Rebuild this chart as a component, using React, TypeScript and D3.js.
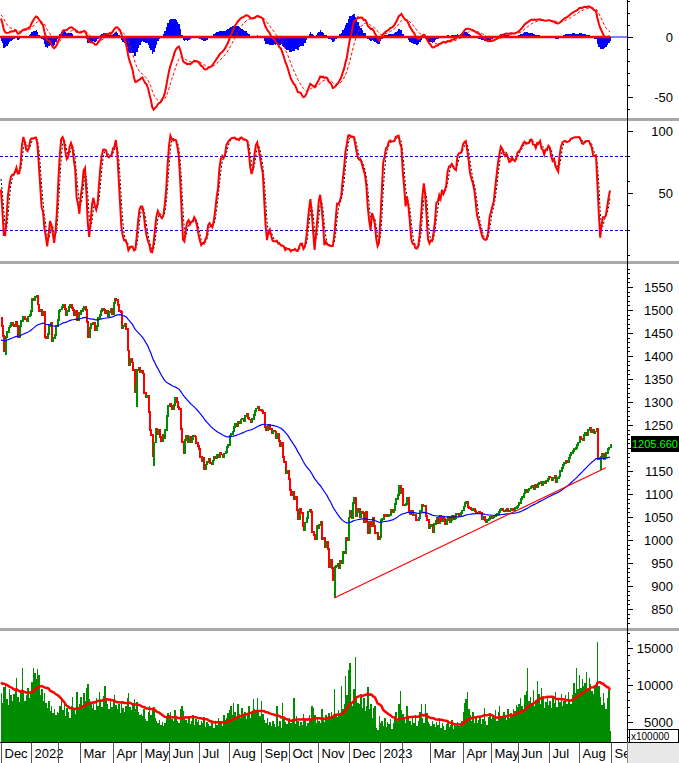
import React from "react";
import * as d3 from "d3";

// ---------- DATA (VN-Index style daily closes, volumes in x100000) ----------
const preCloses = [
  1342, 1350, 1345, 1348, 1336, 1339, 1347, 1352, 1349, 1341, 1333, 1340, 1351, 1356, 1348, 1352, 1346, 1339, 1335, 1342,
  1346, 1359, 1366, 1372, 1380, 1384, 1377, 1391, 1392, 1384, 1388, 1393, 1387, 1392, 1398, 1396, 1412, 1418, 1428, 1437, 1444,
  1442, 1440, 1454, 1468, 1476, 1471, 1456, 1452, 1460, 1468, 1474, 1464, 1452, 1446, 1458, 1469, 1484, 1490, 1501, 1495, 1483, 1478,
  1482,
];
const preVolumes = [10800, 9600, 11400, 10200, 9300, 11900, 10500, 9800, 12100, 10900, 9400, 11300, 10000, 10700, 9200, 11100, 9700, 10400, 9500];

const closeDec21 = [1466, 1443, 1411, 1441, 1453, 1462, 1466, 1472, 1468, 1466, 1475, 1465, 1442, 1466, 1477, 1484, 1485, 1480, 1477, 1486, 1490, 1498];
const closeJan22 = [1525, 1522, 1529, 1531, 1512, 1497, 1500, 1488, 1496, 1442, 1438, 1447, 1466, 1472, 1433, 1440, 1445, 1466, 1478];
const closeFeb22 = [1497, 1501, 1507, 1512, 1503, 1489, 1497, 1507, 1511, 1505, 1500, 1488, 1497, 1479, 1494, 1492];
const closeMar22 = [1498, 1503, 1507, 1500, 1474, 1442, 1461, 1470, 1473, 1472, 1456, 1466, 1482, 1490, 1497, 1503, 1500, 1494, 1498, 1487, 1495, 1502, 1492];
const closeApr22 = [1515, 1524, 1521, 1511, 1498, 1496, 1461, 1465, 1470, 1458, 1412, 1380, 1393, 1386, 1369, 1321, 1336, 1370, 1374, 1366];
const closeMay22 = [1367, 1362, 1320, 1310, 1313, 1278, 1240, 1228, 1183, 1212, 1242, 1230, 1240, 1224, 1214, 1228, 1222, 1240, 1270, 1292];
const closeJun22 = [1296, 1292, 1285, 1294, 1308, 1300, 1289, 1285, 1241, 1213, 1189, 1218, 1226, 1212, 1224, 1213, 1220, 1226, 1225, 1210, 1205, 1197];
const closeJul22 = [1181, 1172, 1178, 1155, 1164, 1170, 1176, 1168, 1165, 1173, 1180, 1178, 1185, 1181, 1190, 1186, 1180, 1188, 1192, 1203, 1206];
const closeAug22 = [1227, 1230, 1236, 1245, 1252, 1248, 1257, 1255, 1262, 1264, 1258, 1270, 1274, 1266, 1262, 1256, 1263, 1272, 1281, 1286, 1290, 1283, 1282];
const closeSep22 = [1281, 1276, 1246, 1238, 1247, 1250, 1242, 1232, 1238, 1236, 1222, 1231, 1216, 1205, 1212, 1180, 1170, 1145, 1150, 1132];
const closeOct22 = [1108, 1098, 1104, 1090, 1094, 1065, 1045, 1068, 1058, 1030, 1022, 1038, 1048, 1062, 1066, 1060, 1018, 1010, 1001, 1030, 1027];
const closeNov22 = [1032, 1040, 1003, 1005, 985, 996, 980, 942, 957, 940, 912, 941, 944, 948, 940, 955, 950, 975, 971, 1004, 1000, 1049];
const closeDec22 = [1063, 1048, 1080, 1091, 1053, 1060, 1068, 1049, 1062, 1058, 1040, 1061, 1040, 1015, 1039, 1030, 1049, 1031, 1014, 1016, 1001, 1007];
const closeJan23 = [1043, 1046, 1055, 1052, 1054, 1052, 1055, 1066, 1060, 1066, 1078, 1090, 1098, 1117, 1102, 1111];
const closeFeb23 = [1075, 1077, 1078, 1092, 1063, 1056, 1063, 1055, 1055, 1044, 1043, 1048, 1063, 1076, 1074, 1075, 1052, 1044, 1027, 1030];
const closeMar23 = [1032, 1017, 1035, 1042, 1047, 1036, 1053, 1041, 1050, 1046, 1035, 1043, 1050, 1040, 1044, 1052, 1045, 1048, 1056, 1057, 1053, 1058, 1064];
const closeApr23 = [1073, 1080, 1082, 1071, 1070, 1068, 1066, 1067, 1063, 1059, 1058, 1061, 1058, 1046, 1051, 1043, 1038, 1043, 1045, 1050];
const closeMay23 = [1047, 1049, 1052, 1055, 1056, 1060, 1066, 1068, 1064, 1063, 1066, 1067, 1062, 1064, 1068, 1066, 1064, 1070, 1072, 1075];
const closeJun23 = [1080, 1089, 1094, 1101, 1108, 1104, 1108, 1112, 1116, 1118, 1110, 1119, 1115, 1121, 1124, 1126, 1120, 1126, 1124, 1128, 1133, 1138];
const closeJul23 = [1136, 1130, 1134, 1139, 1127, 1135, 1138, 1150, 1157, 1163, 1167, 1172, 1170, 1178, 1184, 1190, 1194, 1198, 1200, 1206, 1212];
const closeAug23 = [1224, 1220, 1218, 1229, 1233, 1228, 1240, 1243, 1234, 1240, 1233, 1236, 1242, 1177, 1178, 1180, 1187, 1176, 1180, 1190, 1197, 1201, 1205.66];

const volDec21 = [8900, 7600, 9700, 10200, 8100, 7300, 9400, 8600, 7900, 8800, 9200, 10900, 8400, 7700, 9100, 12300, 9300, 7800, 8700, 9600, 8300, 9000];
const volJan22 = [10400, 12300, 11600, 10800, 12100, 11400, 8600, 9400, 7800, 8900, 7600, 6900, 7800, 6500, 7200, 6200, 6800, 5900, 6400];
const volFeb22 = [6200, 7100, 8000, 6600, 7400, 5800, 6900, 6300, 5600, 7200, 8400, 6700, 6100, 9100, 7000, 7500];
const volMar22 = [8400, 7300, 8900, 7800, 9600, 10200, 8100, 7600, 6900, 7500, 6600, 8200, 7100, 9000, 7700, 7000, 8500, 9800, 8100, 7400, 6700, 7800, 7000];
const volApr22 = [7900, 8600, 7300, 6800, 7500, 6200, 7800, 6900, 6400, 7100, 8300, 8900, 7000, 6600, 7400, 8100, 6800, 7700, 6300, 5900];
const volMay22 = [6100, 5800, 6700, 5400, 5100, 6300, 7200, 5900, 6600, 7000, 5600, 5200, 4800, 5300, 4600, 5000, 4400, 4900, 5500, 6200];
const volJun22 = [5900, 6300, 5400, 5100, 6600, 5800, 5200, 4900, 6800, 7100, 6500, 5700, 5300, 4800, 5600, 4700, 5200, 5900, 4600, 5400, 5000, 5300];
const volJul22 = [4600, 5200, 4800, 5700, 4300, 5000, 4700, 4400, 5300, 4900, 4200, 5100, 4600, 5500, 4800, 5200, 4500, 5900, 5300, 5600, 6200];
const volAug22 = [6600, 7200, 5900, 7600, 6300, 5700, 7400, 6100, 5500, 6900, 5800, 6400, 5400, 6000, 7200, 5600, 6200, 8100, 6700, 6300, 8200, 6400, 5800];
const volSep22 = [7900, 6100, 5300, 4800, 5500, 4600, 5000, 4400, 5200, 4700, 4300, 7200, 4500, 5100, 4200, 7600, 5400, 5000, 4700, 5100];
const volOct22 = [5600, 4900, 5300, 8200, 4700, 5800, 5100, 4400, 5000, 4600, 6100, 5300, 4500, 4800, 5900, 5200, 7100, 6900, 6000, 4900, 5400];
const volNov22 = [5200, 4800, 6800, 5400, 5000, 5900, 5500, 6200, 5600, 6400, 5800, 9400, 6100, 5700, 6600, 6000, 9800, 6800, 7400, 11200, 8600, 12000];
const volDec22 = [13000, 7600, 7200, 9400, 13800, 8300, 7600, 7500, 8400, 6900, 8200, 6500, 7100, 9700, 6800, 7400, 5600, 6900, 7200, 4200, 3900, 5800];
const volJan23 = [4800, 5200, 4500, 5600, 4300, 5000, 4700, 5400, 4100, 4900, 5800, 6300, 5100, 7400, 9200, 6600];
const volFeb23 = [6100, 5400, 4900, 7100, 5800, 5200, 4600, 5500, 4800, 5900, 4400, 5100, 6300, 7500, 5600, 4900, 7400, 6200, 5000, 4700];
const volMar23 = [4500, 5200, 4700, 4300, 5000, 4600, 5500, 4200, 4800, 4400, 3900, 4700, 5100, 4300, 4600, 5300, 4100, 4800, 4500, 5000, 4400, 4900, 5200];
const volApr23 = [6300, 7600, 8100, 9000, 6800, 5900, 5200, 6400, 4800, 5600, 4900, 5300, 5800, 4700, 5400, 6900, 5100, 4600, 5700, 6200];
const volMay23 = [5400, 6100, 5700, 6600, 5200, 6300, 7100, 5800, 5500, 6400, 6000, 5300, 6700, 5600, 6200, 5900, 6800, 6500, 7300, 7000];
const volJun23 = [7400, 8200, 7100, 6800, 8600, 9200, 12300, 7900, 8400, 7600, 9300, 7200, 8000, 10500, 8800, 7500, 9600, 8200, 6900, 7700, 8500, 7300];
const volJul23 = [7800, 6900, 8400, 7600, 9100, 7000, 8300, 7700, 8800, 7200, 7900, 8600, 7400, 9000, 8100, 7500, 8700, 10300, 8900, 12300, 9400];
const volAug23 = [11400, 9600, 10800, 9900, 10300, 11700, 9500, 10900, 10100, 9200, 8800, 9800, 10400, 15800, 9800, 8400, 7300, 8900, 7600, 6800, 8200, 9300, 3800];

const monthLabels = ["Dec", "2022", "Feb", "Mar", "Apr", "May", "Jun", "Jul", "Aug", "Sep", "Oct", "Nov", "Dec", "2023", "Feb", "Mar", "Apr", "May", "Jun", "Jul", "Aug"];
const hiddenMonthLabels = [2, 14]; // Feb labels crowded out
const nextMonthLabel = "Sep";

// typical intraday excursion beyond open/close (index points)
const intradayPad = 4;
// notable intraday lows (bar index, low)
const wickLows: [number, number][] = [[3, 1402], [97, 1290], [109, 1160], [238, 874], [428, 1152]];
// trend line anchors (bar index, price)
const trendFrom: [number, number] = [238, 874];
const trendTo: [number, number] = [432, 1157];

const priceTicks = [850, 900, 950, 1000, 1050, 1100, 1150, 1200, 1250, 1300, 1350, 1400, 1450, 1500, 1550];
const priceLabelHidden = [1200]; // covered by last-price box
const macdTicks = [-50, 0];
const stochTicks = [50, 100];
const stochLevels = [20, 80];
const volTicks = [5000, 10000, 15000];

const closeMonths = [closeDec21, closeJan22, closeFeb22, closeMar22, closeApr22, closeMay22, closeJun22, closeJul22, closeAug22, closeSep22, closeOct22, closeNov22, closeDec22, closeJan23, closeFeb23, closeMar23, closeApr23, closeMay23, closeJun23, closeJul23, closeAug23];
const volMonths = [volDec21, volJan22, volFeb22, volMar22, volApr22, volMay22, volJun22, volJul22, volAug22, volSep22, volOct22, volNov22, volDec22, volJan23, volFeb23, volMar23, volApr23, volMay23, volJun23, volJul23, volAug23];

// ---------- derived ----------
const closes = closeMonths.flat();
const volumes = volMonths.flat();
const N = closes.length;
const P = preCloses.length;
const allC = [...preCloses, ...closes];

function ema(arr: number[], n: number) {
  const a = 2 / (n + 1);
  const out: number[] = [];
  let e = arr[0];
  arr.forEach((v, i) => {
    e = i === 0 ? v : e + a * (v - e);
    out.push(e);
  });
  return out;
}
function sma(arr: number[], n: number) {
  return arr.map((_, j) => d3.mean(arr.slice(Math.max(0, j - n + 1), j + 1)) as number);
}

const ema12 = ema(allC, 12);
const ema26 = ema(allC, 26);
const macdAll = ema12.map((v, i) => v - ema26[i]);
const sigAll = ema(macdAll, 9);
const macd = macdAll.slice(P);
const signal = sigAll.slice(P);
const hist = macd.map((v, i) => v - signal[i]);

const wickMap = new Map(wickLows.map(([i, v]) => [i, v]));
const hiAll = allC.map((c, j) => (j === 0 ? c : Math.max(c, allC[j - 1])) + intradayPad);
const loAll = allC.map((c, j) => {
  const base = (j === 0 ? c : Math.min(c, allC[j - 1])) - intradayPad;
  const w = wickMap.get(j - P);
  return w !== undefined ? Math.min(base, w) : base;
});
const rawK = allC.map((c, j) => {
  const s = Math.max(0, j - 13);
  const hh = d3.max(hiAll.slice(s, j + 1)) as number;
  const ll = d3.min(loAll.slice(s, j + 1)) as number;
  return hh === ll ? 50 : (100 * (c - ll)) / (hh - ll);
});
const slowKAll = sma(rawK, 3);
const slowDAll = sma(slowKAll, 3);
const stochK = slowKAll.slice(P);
const stochD = slowDAll.slice(P);

const emaPrice = ema(allC, 50).slice(P);
const volMA = sma([...preVolumes, ...volumes], 20).slice(preVolumes.length);

const monthStarts: number[] = [];
{
  let acc = 0;
  closeMonths.forEach((m) => {
    monthStarts.push(acc);
    acc += m.length;
  });
}

// ---------- layout ----------
const W = 679;
const H = 763;
const AX = 627;
const FONT = "Liberation Sans, Arial, Helvetica, sans-serif";
const GREEN = "#008c00";
const RED = "#ff0000";
const BLUE = "#0000ff";

export default function App() {
  const x = d3.scaleLinear().domain([0, N - 1]).range([1, 1 + 1.4 * (N - 1)]);
  const px = (i: number) => Math.floor(x(i));
  const bw = (i: number) => Math.max(1, Math.floor(x(i + 1)) - Math.floor(x(i)));

  const yM = d3.scaleLinear().domain([0, -50]).range([37, 97]);
  const yS = d3.scaleLinear().domain([0, 100]).range([255, 131]);
  const yP = d3.scaleLinear().domain([850, 1550]).range([609, 287]);
  const yV = d3.scaleLinear().domain([5000, 15000]).range([722, 648]);

  const lineM = d3.line<number>().x((_, i) => x(i)).y((d) => yM(d));
  const lineS = d3.line<number>().x((_, i) => x(i)).y((d) => yS(d));
  const lineP = d3.line<number>().x((_, i) => x(i)).y((d) => yP(d));
  const lineV = d3.line<number>().x((_, i) => x(i)).y((d) => yV(d));

  const lastX = x(N - 1);
  const lastPriceText = closes[N - 1].toFixed(3);

  const ticks = (
    scale: d3.ScaleLinear<number, number>,
    minor: number[],
    major: number[],
    top: number,
    bottom: number,
    key: string,
    hidden: number[] = []
  ) => (
    <g key={key}>
      {minor.map((v) => {
        const y = Math.round(scale(v)) + 0.5;
        if (y < top || y > bottom) return null;
        return <line key={"m" + v} x1={AX} x2={AX + 3} y1={y} y2={y} stroke="#000" />;
      })}
      {major.map((v) => {
        const y = Math.round(scale(v)) + 0.5;
        return (
          <g key={"M" + v}>
            <line x1={AX} x2={AX + 6} y1={y} y2={y} stroke="#000" />
            {hidden.includes(v) ? null : (
              <text x={673} y={y} dy="0.36em" textAnchor="end" fontSize={13} fill="#000">
                {v}
              </text>
            )}
          </g>
        );
      })}
    </g>
  );

  return (
    <svg
      width={W}
      height={H}
      style={{ position: "absolute", left: 0, top: 0, background: "#fff" }}
      fontFamily={FONT}
    >
      <defs>
        <clipPath id="cM"><rect x={0} y={0} width={AX} height={118} /></clipPath>
        <clipPath id="cS"><rect x={0} y={122} width={AX} height={140} /></clipPath>
        <clipPath id="cP"><rect x={0} y={265} width={AX} height={363} /></clipPath>
        <clipPath id="cV"><rect x={0} y={631} width={AX} height={111} /></clipPath>
      </defs>
      <rect x={0} y={0} width={W} height={H} fill="#fff" />

      {/* MACD panel */}
      <g clipPath="url(#cM)">
        <line x1={0} x2={AX} y1={yM(0)} y2={yM(0)} stroke={BLUE} strokeWidth={1} />
        {hist.map((h, i) => {
          const y0 = yM(0);
          const y1 = yM(h);
          return (
            <rect key={i} x={px(i)} y={Math.min(y0, y1)} width={bw(i)} height={Math.abs(y1 - y0)} fill={BLUE} shapeRendering="crispEdges" />
          );
        })}
        <line x1={0} x2={lastX} y1={yM(0)} y2={yM(0)} stroke={RED} strokeWidth={2.5} />
        <path d={lineM(signal) || ""} fill="none" stroke={RED} strokeWidth={1} strokeDasharray="3,2" />
        <path d={lineM(macd) || ""} fill="none" stroke={RED} strokeWidth={2} />
      </g>

      {/* Stochastic panel */}
      <g clipPath="url(#cS)">
        {stochLevels.map((l) => (
          <line key={l} x1={0} x2={AX} y1={Math.round(yS(l)) + 0.5} y2={Math.round(yS(l)) + 0.5} stroke={BLUE} strokeWidth={1} strokeDasharray="3,2" />
        ))}
        <path d={lineS(stochD) || ""} fill="none" stroke="#000" strokeWidth={1} strokeDasharray="2,2" />
        <path d={lineS(stochK) || ""} fill="none" stroke={RED} strokeWidth={2} />
      </g>

      {/* Price panel */}
      <g clipPath="url(#cP)">
        {closes.map((c, i) => {
          const o = i === 0 ? preCloses[P - 1] : closes[i - 1];
          const up = c >= o;
          const yTop = yP(Math.max(o, c) + intradayPad * 0.5);
          let yBot = yP(Math.min(o, c) - intradayPad * 0.5);
          const w = wickMap.get(i);
          if (w !== undefined) yBot = Math.max(yBot, yP(w));
          return (
            <rect key={i} x={px(i)} y={yTop} width={2} height={yBot - yTop} fill={up ? GREEN : RED} shapeRendering="crispEdges" />
          );
        })}
        <path d={lineP(emaPrice) || ""} fill="none" stroke={BLUE} strokeWidth={1.2} />
        <line x1={x(trendFrom[0])} y1={yP(trendFrom[1])} x2={x(trendTo[0])} y2={yP(trendTo[1])} stroke={RED} strokeWidth={1.2} />
      </g>

      {/* Volume panel */}
      <g clipPath="url(#cV)">
        {volumes.map((v, i) => (
          <rect key={i} x={px(i)} y={yV(v)} width={bw(i)} height={742 - yV(v)} fill={GREEN} shapeRendering="crispEdges" />
        ))}
        <path d={lineV(volMA) || ""} fill="none" stroke={RED} strokeWidth={2.5} />
      </g>

      {/* panel separators */}
      <rect x={0} y={118} width={W} height={3} fill="#a8a8a8" />
      <rect x={0} y={261} width={W} height={3} fill="#a8a8a8" />
      <rect x={0} y={628} width={W} height={3} fill="#a8a8a8" />

      {/* right axis */}
      <line x1={AX + 0.5} x2={AX + 0.5} y1={0} y2={742} stroke="#000" />
      {ticks(yM, d3.range(-60, 31, 10), macdTicks, 0, 117, "tm")}
      {ticks(yS, [0, 20, 40, 60, 80], stochTicks, 122, 261, "ts")}
      {ticks(yP, d3.range(810, 1601, 10), priceTicks, 265, 627, "tp", priceLabelHidden)}
      {ticks(yV, d3.range(3000, 17001, 1000), volTicks, 631, 741, "tv")}

      {/* last price box */}
      <rect x={631} y={436} width={48} height={16} fill="#000" />
      <text x={632} y={448} fontSize={11} fill="#00ff00">
        {lastPriceText}
      </text>

      {/* volume multiplier box */}
      <rect x={629.5} y={729.5} width={49} height={13} fill="#fff" stroke="#000" />
      <text x={631} y={740} fontSize={10} fill="#000">x100000</text>

      {/* x axis band */}
      <rect x={0} y={743} width={W} height={20} fill="#fff" />
      <line x1={0} x2={W} y1={742.5} y2={742.5} stroke="#000" />
      {monthStarts.map((s, k) => {
        const xx = Math.floor(x(s)) + 0.5;
        return (
          <g key={k}>
            <line x1={xx} x2={xx} y1={743} y2={763} stroke="#555" />
            {hiddenMonthLabels.includes(k) ? null : (
              <text x={xx + 3} y={758} fontSize={13} fill="#000">
                {monthLabels[k]}
              </text>
            )}
          </g>
        );
      })}
      <line x1={Math.floor(x(N)) + 0.5} x2={Math.floor(x(N)) + 0.5} y1={743} y2={763} stroke="#555" />
      <text x={Math.floor(x(N)) + 3.5} y={758} fontSize={13} fill="#000">{nextMonthLabel}</text>
      <rect x={AX + 1} y={743} width={W - AX - 1} height={20} fill="#e8e8e8" />
      <line x1={AX + 0.5} x2={AX + 0.5} y1={742} y2={763} stroke="#888" />
    </svg>
  );
}
